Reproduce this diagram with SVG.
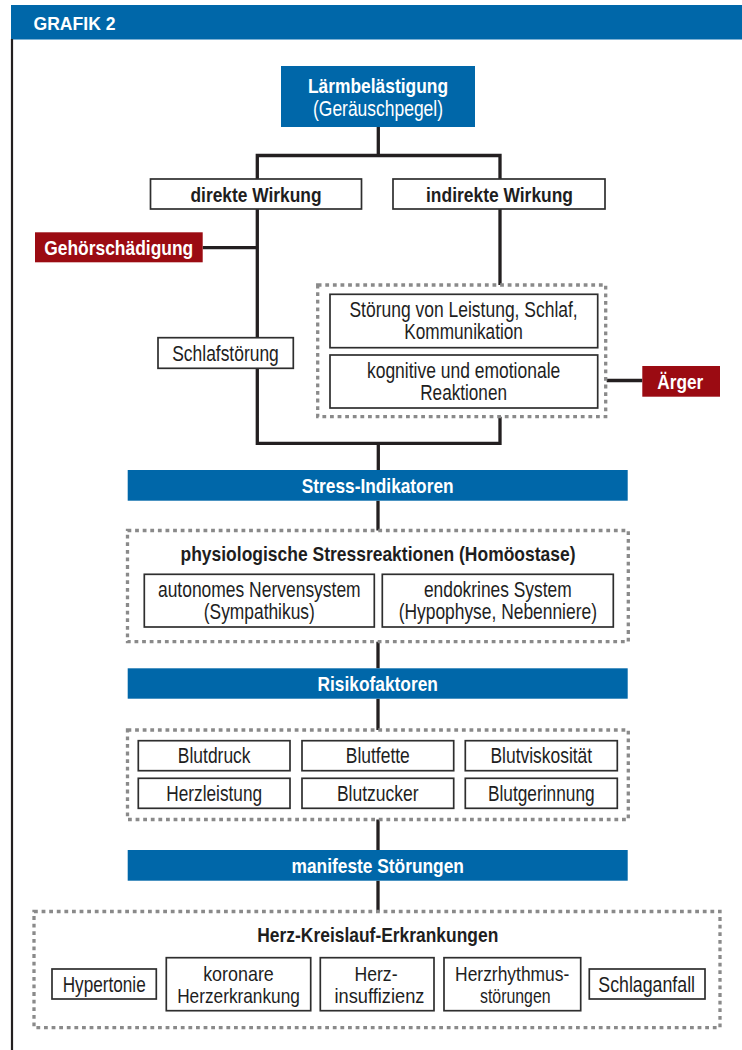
<svg xmlns="http://www.w3.org/2000/svg" width="742" height="1050" viewBox="0 0 742 1050">
<style>
  text { font-family: "Liberation Sans", Arial, sans-serif; text-anchor: middle; }
  .r { font-size: 21.5px; fill: #1e1e1e; }
  .r2 { font-size: 21px; fill: #1e1e1e; }
  .b { font-size: 20.5px; font-weight: bold; fill: #1e1e1e; }
  .w { font-size: 20.5px; font-weight: bold; fill: #ffffff; }
  .wr { font-size: 21.5px; fill: #ffffff; }
  .blue { fill: #0067a9; }
  .red { fill: #9b0b12; }
  .box { fill: #ffffff; stroke: #2e2e2e; stroke-width: 1.7; }
  .dot { fill: none; stroke: #8a8a8a; stroke-width: 3.3; stroke-dasharray: 3.8 3.8; }
  .con { fill: none; stroke: #231f20; stroke-width: 3.3; stroke-linejoin: miter; }
</style>

<g id="frame">
  <rect x="11" y="5" width="731" height="34.5" class="blue"/>
  <line x1="12" y1="39" x2="12" y2="1050" stroke="#231f20" stroke-width="2.2"/>
  <text x="33.5" y="30" class="w" style="text-anchor:start;font-size:18.5px" textLength="82" lengthAdjust="spacingAndGlyphs">GRAFIK 2</text>
</g>

<g id="connectors">
  <path class="con" d="M378.3,127 V155.5"/>
  <path class="con" d="M257.3,179 V155.5 H500 V179"/>
  <path class="con" d="M257.3,209 V443.3 H500 V416.7"/>
  <path class="con" d="M500,209 V285"/>
  <path class="con" d="M202.7,247.7 H257.3"/>
  <path class="con" d="M606.7,380.5 H642.3"/>
  <path class="con" d="M378.3,443.3 V470"/>
  <path class="con" d="M378,500.7 V530.5"/>
  <path class="con" d="M378,641.7 V668.3"/>
  <path class="con" d="M378,698.7 V730"/>
  <path class="con" d="M378,819.5 V850"/>
  <path class="con" d="M378,880.7 V911.5"/>
</g>

<g id="laermbelaestigung">
  <rect x="281" y="66" width="194" height="61" class="blue"/>
  <text x="378" y="92.7" class="w" textLength="140" lengthAdjust="spacingAndGlyphs">Lärmbelästigung</text>
  <text x="378" y="116" class="wr" textLength="130" lengthAdjust="spacingAndGlyphs">(Geräuschpegel)</text>
</g>

<g id="direkte-wirkung">
  <rect x="150.5" y="179" width="211" height="30" class="box"/>
  <text x="256" y="201.5" class="b" textLength="131" lengthAdjust="spacingAndGlyphs">direkte Wirkung</text>
</g>

<g id="indirekte-wirkung">
  <rect x="393" y="179" width="212" height="30" class="box"/>
  <text x="499.5" y="201.5" class="b" textLength="147" lengthAdjust="spacingAndGlyphs">indirekte Wirkung</text>
</g>

<g id="gehoerschaedigung">
  <rect x="35" y="232.3" width="167.7" height="30" class="red"/>
  <text x="118.7" y="254.5" class="w" textLength="149" lengthAdjust="spacingAndGlyphs">Gehörschädigung</text>
</g>

<g id="schlafstoerung">
  <rect x="158" y="337.7" width="135.3" height="30.6" class="box"/>
  <text x="225.5" y="360.5" class="r" textLength="106.5" lengthAdjust="spacingAndGlyphs">Schlafstörung</text>
</g>

<g id="indirekte-gruppe">
  <rect x="317.7" y="285" width="288" height="131.7" class="dot"/>
  <g id="stoerung-leistung">
    <rect x="330" y="294.3" width="267.7" height="53.4" class="box"/>
    <text x="463.6" y="316.7" class="r" textLength="228.3" lengthAdjust="spacingAndGlyphs">Störung von Leistung, Schlaf,</text>
    <text x="463.6" y="339.3" class="r" textLength="118.7" lengthAdjust="spacingAndGlyphs">Kommunikation</text>
  </g>
  <g id="kognitive-reaktionen">
    <rect x="330" y="355" width="267.7" height="53" class="box"/>
    <text x="463.6" y="377.5" class="r" textLength="193.3" lengthAdjust="spacingAndGlyphs">kognitive und emotionale</text>
    <text x="463.6" y="400" class="r" textLength="86.7" lengthAdjust="spacingAndGlyphs">Reaktionen</text>
  </g>
</g>

<g id="aerger">
  <rect x="642.3" y="366" width="77.7" height="30.7" class="red"/>
  <text x="680.3" y="388.5" class="w" textLength="46" lengthAdjust="spacingAndGlyphs">Ärger</text>
</g>

<g id="stress-indikatoren">
  <rect x="127.7" y="470" width="500" height="30.7" class="blue"/>
  <text x="377.7" y="492.5" class="w" textLength="151.7" lengthAdjust="spacingAndGlyphs">Stress-Indikatoren</text>
</g>

<g id="stressreaktionen">
  <rect x="127.5" y="530.5" width="500.8" height="111.2" class="dot"/>
  <text x="378" y="560.5" class="b" textLength="395" lengthAdjust="spacingAndGlyphs">physiologische Stressreaktionen (Homöostase)</text>
  <g id="autonomes-nervensystem">
    <rect x="144.3" y="574.3" width="230" height="52.7" class="box"/>
    <text x="259.3" y="596.5" class="r" textLength="202.7" lengthAdjust="spacingAndGlyphs">autonomes Nervensystem</text>
    <text x="259.3" y="618.8" class="r" textLength="111" lengthAdjust="spacingAndGlyphs">(Sympathikus)</text>
  </g>
  <g id="endokrines-system">
    <rect x="382.3" y="574.3" width="231" height="52.7" class="box"/>
    <text x="497.8" y="596.5" class="r" textLength="147.7" lengthAdjust="spacingAndGlyphs">endokrines System</text>
    <text x="497.8" y="618.8" class="r" textLength="198.3" lengthAdjust="spacingAndGlyphs">(Hypophyse, Nebenniere)</text>
  </g>
</g>

<g id="risikofaktoren">
  <rect x="127.7" y="668.3" width="500" height="30.4" class="blue"/>
  <text x="377.7" y="690.5" class="w" textLength="120.3" lengthAdjust="spacingAndGlyphs">Risikofaktoren</text>
</g>

<g id="risikofaktoren-gruppe">
  <rect x="127.5" y="730" width="500.8" height="89.5" class="dot"/>
  <g id="blutdruck"><rect x="138.3" y="740.7" width="151.7" height="30" class="box"/>
    <text x="214.2" y="762.7" class="r" textLength="72.7" lengthAdjust="spacingAndGlyphs">Blutdruck</text></g>
  <g id="blutfette"><rect x="302" y="740.7" width="151.7" height="30" class="box"/>
    <text x="377.8" y="762.7" class="r" textLength="64" lengthAdjust="spacingAndGlyphs">Blutfette</text></g>
  <g id="blutviskositaet"><rect x="465.3" y="740.7" width="152" height="30" class="box"/>
    <text x="541.3" y="762.7" class="r" textLength="101.7" lengthAdjust="spacingAndGlyphs">Blutviskosität</text></g>
  <g id="herzleistung"><rect x="138.3" y="778.3" width="151.7" height="30" class="box"/>
    <text x="214.2" y="800.7" class="r" textLength="95.7" lengthAdjust="spacingAndGlyphs">Herzleistung</text></g>
  <g id="blutzucker"><rect x="302" y="778.3" width="151.7" height="30" class="box"/>
    <text x="377.8" y="800.7" class="r" textLength="81.7" lengthAdjust="spacingAndGlyphs">Blutzucker</text></g>
  <g id="blutgerinnung"><rect x="465.3" y="778.3" width="152" height="30" class="box"/>
    <text x="541.3" y="800.7" class="r" textLength="106.7" lengthAdjust="spacingAndGlyphs">Blutgerinnung</text></g>
</g>

<g id="manifeste-stoerungen">
  <rect x="127.7" y="850" width="500" height="30.7" class="blue"/>
  <text x="377.7" y="872.5" class="w" textLength="172.3" lengthAdjust="spacingAndGlyphs">manifeste Störungen</text>
</g>

<g id="herz-kreislauf">
  <rect x="34" y="911.5" width="686" height="116.2" class="dot"/>
  <text x="377.8" y="942.3" class="b" textLength="241" lengthAdjust="spacingAndGlyphs">Herz-Kreislauf-Erkrankungen</text>
  <g id="hypertonie"><rect x="52" y="969" width="104.3" height="30" class="box"/>
    <text x="104.2" y="991.7" class="r" textLength="83" lengthAdjust="spacingAndGlyphs">Hypertonie</text></g>
  <g id="koronare-herzerkrankung"><rect x="166.3" y="957.7" width="144.4" height="53" class="box"/>
    <text x="238.5" y="980.9" class="r2" textLength="70.7" lengthAdjust="spacingAndGlyphs">koronare</text>
    <text x="238.5" y="1003.3" class="r2" textLength="122.7" lengthAdjust="spacingAndGlyphs">Herzerkrankung</text></g>
  <g id="herzinsuffizienz"><rect x="320.3" y="957.7" width="113.7" height="53" class="box"/>
    <text x="376" y="980.9" class="r2" textLength="43" lengthAdjust="spacingAndGlyphs">Herz-</text>
    <text x="379.5" y="1003.3" class="r2" textLength="90" lengthAdjust="spacingAndGlyphs">insuffizienz</text></g>
  <g id="herzrhythmusstoerungen"><rect x="444" y="957.7" width="136.7" height="53" class="box"/>
    <text x="512.2" y="980.9" class="r2" textLength="114.3" lengthAdjust="spacingAndGlyphs">Herzrhythmus-</text>
    <text x="515.3" y="1003.3" class="r2" textLength="70.7" lengthAdjust="spacingAndGlyphs">störungen</text></g>
  <g id="schlaganfall"><rect x="589.3" y="969" width="115.7" height="30" class="box"/>
    <text x="646.7" y="991.7" class="r" textLength="96.7" lengthAdjust="spacingAndGlyphs">Schlaganfall</text></g>
</g>
</svg>
